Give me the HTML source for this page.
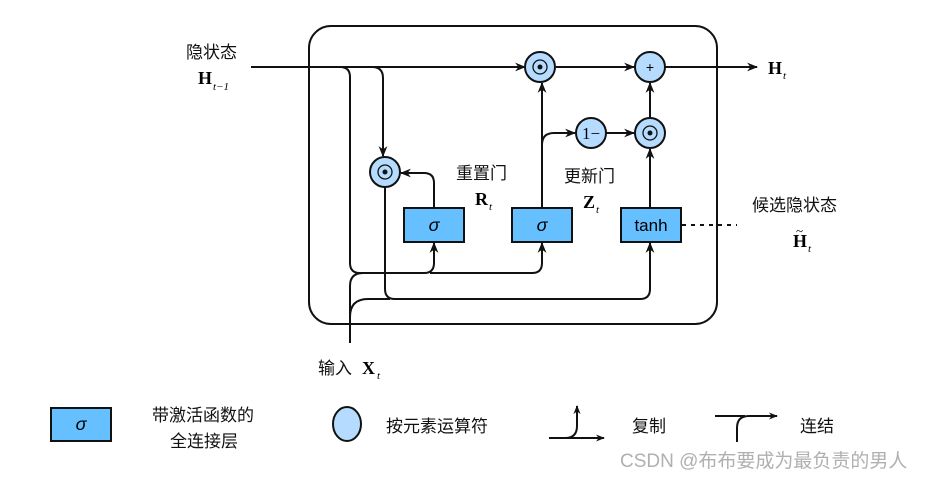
<!DOCTYPE html>
<html><head><meta charset="utf-8"><style>
html,body{margin:0;padding:0;background:#fff;}
text{font-family:"Liberation Sans","Noto Sans CJK SC",sans-serif;}
.s text, text.s{font-family:"Liberation Serif","Noto Serif CJK SC",serif;}
</style></head><body>
<svg width="928" height="479" viewBox="0 0 928 479" xmlns="http://www.w3.org/2000/svg">
<defs><marker id="a" viewBox="0 0 10 10" refX="9" refY="5" markerWidth="9" markerHeight="9" orient="auto" markerUnits="userSpaceOnUse"><path d="M0,1 L10,5 L0,9 L3,5z" fill="#111"/></marker>
<marker id="b" viewBox="0 0 10 10" refX="9" refY="5" markerWidth="11" markerHeight="11" orient="auto" markerUnits="userSpaceOnUse"><path d="M0,1 L10,5 L0,9 L3,5z" fill="#111"/></marker></defs>
<g fill="none" stroke="#111" stroke-width="2">
<rect x="309" y="26" width="408" height="298" rx="22"/>
<path d="M251,67 H525" marker-end="url(#b)"/>
<path d="M340,67 Q350,67 350,77 V263 Q350,273 360,273 H424 Q434,273 434,263 V243" marker-end="url(#b)"/>
<path d="M430,273 H532 Q542,273 542,263 V243" marker-end="url(#b)"/>
<path d="M372,67 Q383,67 383,78 V156" marker-end="url(#b)"/>
<path d="M385,188 V289 Q385,299 395,299 H640 Q650,299 650,289 V243" marker-end="url(#b)"/>
<path d="M350,343 V286 Q350,273 363,273"/>
<path d="M350,325 V317 Q350,299 368,299 H390"/>
<path d="M434,207 V183 Q434,173 424,173 H401" marker-end="url(#b)"/>
<path d="M542,207 V83" marker-end="url(#b)"/>
<path d="M542,145 Q542,133 554,133 H575" marker-end="url(#b)"/>
<path d="M606,133 H634" marker-end="url(#b)"/>
<path d="M650,118 V83" marker-end="url(#b)"/>
<path d="M650,207 V149" marker-end="url(#b)"/>
<path d="M556,67 H634" marker-end="url(#b)"/>
<path d="M665,67 H757" marker-end="url(#b)"/>
<path d="M682,225 H737" stroke-dasharray="4,5"/>
</g>
<g stroke="#111" stroke-width="2" fill="#b5dcff">
<circle cx="540" cy="67" r="15"/><circle cx="650" cy="67" r="15"/>
<circle cx="591" cy="133" r="15"/><circle cx="650" cy="133" r="15"/>
<circle cx="385" cy="172" r="15"/>
<ellipse cx="347" cy="424" rx="14" ry="17"/>
</g>
<g fill="#111"><circle cx="540" cy="67" r="2.5"/><circle cx="650" cy="133" r="2.5"/><circle cx="385" cy="172" r="2.5"/></g>
<g fill="none" stroke="#111" stroke-width="1.3"><circle cx="540" cy="67" r="7"/><circle cx="650" cy="133" r="7"/><circle cx="385" cy="172" r="7"/></g>
<text x="650" y="72" font-size="14" text-anchor="middle">+</text>
<text x="591" y="139" font-size="17" text-anchor="middle" class="s">1−</text>
<g stroke="#111" stroke-width="2" fill="#66bfff">
<rect x="404" y="208" width="60" height="34"/><rect x="512" y="208" width="60" height="34"/><rect x="621" y="208" width="60" height="34"/>
<rect x="51" y="408" width="60" height="33"/>
</g>
<g font-size="18" text-anchor="middle" font-style="italic">
<text x="434" y="231">σ</text><text x="542" y="231">σ</text><text x="81" y="430">σ</text></g>
<text x="651" y="231" font-size="17" text-anchor="middle">tanh</text>
<g font-size="17" fill="#111">
<text x="186" y="58">隐状态</text>
<text x="456" y="179">重置门</text>
<text x="564" y="182">更新门</text>
<text x="752" y="211">候选隐状态</text>
<text x="318" y="374">输入</text>
<text x="152" y="421">带激活函数的</text>
<text x="170" y="447">全连接层</text>
<text x="386" y="432">按元素运算符</text>
<text x="632" y="432">复制</text>
<text x="800" y="432">连结</text>
</g>
<g font-size="18" font-weight="bold" class="s">
<text x="198" y="84">H</text><text x="213" y="90" font-size="11" font-style="italic" font-weight="normal">t−1</text>
<text x="768" y="74">H</text><text x="783" y="79" font-size="11" font-style="italic" font-weight="normal">t</text>
<text x="475" y="205">R</text><text x="489" y="210" font-size="11" font-style="italic" font-weight="normal">t</text>
<text x="583" y="208">Z</text><text x="596" y="213" font-size="11" font-style="italic" font-weight="normal">t</text>
<text x="793" y="247">H</text><text x="796" y="235" font-size="13" font-weight="normal">~</text><text x="808" y="252" font-size="11" font-style="italic" font-weight="normal">t</text>
<text x="362" y="374">X</text><text x="377" y="379" font-size="11" font-style="italic" font-weight="normal">t</text>
</g>
<g fill="none" stroke="#111" stroke-width="2">
<path d="M549,438 H604" marker-end="url(#a)"/>
<path d="M565,438 Q577,438 577,426 V406" marker-end="url(#a)"/>
<path d="M737,442 V428 Q737,416 749,416 H777" marker-end="url(#a)"/>
<path d="M715,416 H745"/>
</g>
<text x="620" y="467" font-size="19" fill="#b0b0b0">CSDN @布布要成为最负责的男人</text>
</svg>
</body></html>
